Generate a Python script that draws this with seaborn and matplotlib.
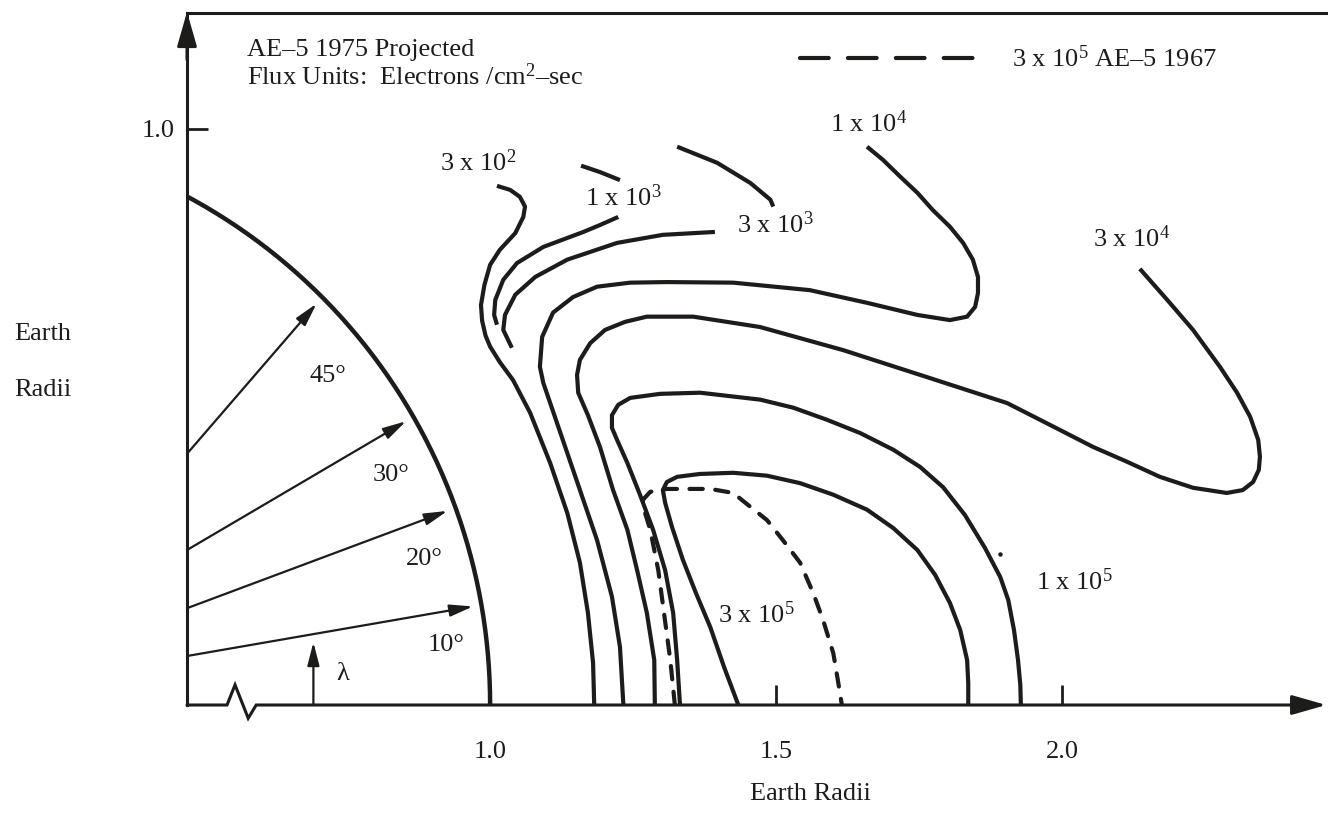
import matplotlib
matplotlib.use("Agg")
import matplotlib.pyplot as plt
from matplotlib.lines import Line2D
import numpy as np
import pandas as pd
import seaborn as sns

# ---------------------------------------------------------------------------
# Flux contours in the meridian plane (x: equatorial distance, y: height),
# both in Earth radii.
# ---------------------------------------------------------------------------
c3e2_x = [1.012, 1.035, 1.052, 1.061, 1.058, 1.044, 1.017, 1.000, 0.990, 0.984,
          0.986, 0.992, 1.000, 1.017, 1.040, 1.070, 1.105, 1.135, 1.157, 1.171,
          1.180, 1.182]
c3e2_y = [0.901, 0.894, 0.882, 0.865, 0.847, 0.819, 0.790, 0.764, 0.729, 0.694,
          0.667, 0.641, 0.622, 0.595, 0.564, 0.507, 0.420, 0.333, 0.247, 0.160,
          0.073, 0.000]

c1e3_upper_x = [1.159, 1.192, 1.227]
c1e3_upper_y = [0.936, 0.925, 0.911]
c1e3_lower_x = [1.224, 1.192, 1.163, 1.093, 1.047, 1.023, 1.009, 1.007, 1.012]
c1e3_lower_y = [0.847, 0.833, 0.821, 0.795, 0.767, 0.738, 0.703, 0.677, 0.660]

c3e3_upper_x = [1.327, 1.397, 1.455, 1.490, 1.495]
c3e3_upper_y = [0.969, 0.941, 0.906, 0.877, 0.865]
c3e3_lower_x = [1.393, 1.302, 1.222, 1.135, 1.079, 1.044, 1.026, 1.023, 1.038]
c3e3_lower_y = [0.821, 0.816, 0.802, 0.773, 0.743, 0.712, 0.677, 0.651, 0.620]

c1e4_x = [1.233, 1.227, 1.213, 1.187, 1.145, 1.093, 1.087, 1.091, 1.110, 1.145,
          1.187, 1.245, 1.309, 1.425, 1.559, 1.659, 1.747, 1.804, 1.834, 1.848,
          1.853, 1.853, 1.844, 1.827, 1.804, 1.774, 1.747, 1.717, 1.687, 1.659]
c1e4_y = [0.000, 0.101, 0.188, 0.286, 0.408, 0.559, 0.587, 0.639, 0.681, 0.708,
          0.726, 0.733, 0.734, 0.733, 0.720, 0.698, 0.677, 0.668, 0.674, 0.691,
          0.715, 0.743, 0.773, 0.802, 0.830, 0.859, 0.889, 0.917, 0.946, 0.969]

c3e4_x = [1.288, 1.287, 1.274, 1.257, 1.240, 1.215, 1.192, 1.171, 1.154, 1.152,
          1.157, 1.175, 1.201, 1.236, 1.274, 1.355, 1.472, 1.617, 1.764, 1.904,
          1.997, 2.054, 2.114, 2.171, 2.229, 2.288, 2.316, 2.334, 2.344, 2.346,
          2.343, 2.329, 2.306, 2.276, 2.229, 2.184, 2.136]
c3e4_y = [0.000, 0.078, 0.160, 0.234, 0.304, 0.373, 0.448, 0.503, 0.542, 0.573,
          0.599, 0.628, 0.651, 0.665, 0.674, 0.674, 0.656, 0.616, 0.569, 0.524,
          0.477, 0.448, 0.422, 0.396, 0.377, 0.368, 0.373, 0.387, 0.408, 0.431,
          0.460, 0.500, 0.542, 0.587, 0.651, 0.703, 0.757]

c1e5_x = [1.332, 1.327, 1.320, 1.306, 1.285, 1.262, 1.240, 1.222, 1.213, 1.213,
          1.224, 1.245, 1.297, 1.367, 1.472, 1.530, 1.589, 1.647, 1.705, 1.752,
          1.792, 1.830, 1.865, 1.892, 1.906, 1.916, 1.923, 1.927, 1.928]
c1e5_y = [0.000, 0.078, 0.160, 0.234, 0.304, 0.365, 0.420, 0.460, 0.481, 0.503,
          0.521, 0.533, 0.540, 0.542, 0.530, 0.516, 0.495, 0.472, 0.443, 0.413,
          0.378, 0.330, 0.273, 0.222, 0.182, 0.130, 0.078, 0.035, 0.000]

c3e5_x = [1.434, 1.409, 1.385, 1.360, 1.337, 1.318, 1.306, 1.302, 1.309, 1.327,
          1.367, 1.425, 1.484, 1.542, 1.600, 1.659, 1.705, 1.747, 1.778, 1.804,
          1.822, 1.834, 1.836, 1.836]
c3e5_y = [0.000, 0.066, 0.135, 0.194, 0.252, 0.309, 0.351, 0.373, 0.387, 0.396,
          0.401, 0.403, 0.398, 0.385, 0.365, 0.339, 0.307, 0.269, 0.226, 0.177,
          0.130, 0.078, 0.038, 0.000]

# 3 x 10^5 contour of the 1967 model (dashed)
c3e5_1967_x = [1.323, 1.315, 1.304, 1.294, 1.280, 1.271, 1.267, 1.280, 1.309,
               1.385, 1.425, 1.455, 1.484, 1.512, 1.542, 1.565, 1.582, 1.600,
               1.608, 1.615]
c3e5_1967_y = [0.000, 0.078, 0.160, 0.234, 0.304, 0.333, 0.356, 0.370, 0.375,
               0.375, 0.368, 0.344, 0.321, 0.286, 0.247, 0.194, 0.148, 0.090,
               0.043, 0.000]

# Contour labels
level_labels = [r"3 x $\mathregular{10^{2}}$", r"1 x $\mathregular{10^{3}}$",
                r"3 x $\mathregular{10^{3}}$", r"1 x $\mathregular{10^{4}}$",
                r"3 x $\mathregular{10^{4}}$", r"3 x $\mathregular{10^{5}}$",
                r"1 x $\mathregular{10^{5}}$"]
level_label_x = [0.913, 1.166, 1.432, 1.594, 2.054, 1.399, 1.955]
level_label_y = [0.927, 0.866, 0.819, 0.995, 0.795, 0.142, 0.200]

# Magnetic latitude arrows
lat_deg = [10, 20, 30, 45]
lat_base_y = [0.085, 0.168, 0.269, 0.436]
lat_label_x = [0.890, 0.853, 0.794, 0.685]
lat_label_y = [0.094, 0.243, 0.389, 0.561]

x_ticks = [1.0, 1.5, 2.0]
x_tick_labels = ["1.0", "1.5", "2.0"]
y_ticks = [1.0]
y_tick_labels = ["1.0"]

EARTH_RADIUS = 1.0

# ---------------------------------------------------------------------------
sns.set_theme(style="ticks")
plt.rcParams["font.family"] = ["Liberation Serif", "DejaVu Serif"]
plt.rcParams["mathtext.fontset"] = "custom"
plt.rcParams["mathtext.rm"] = "Liberation Serif"

INK = "#1e1b1b"
FS = 19
LW = 3.0

fig = plt.figure(figsize=(13.28, 8.15), dpi=100)
fig.patch.set_facecolor("white")
ax = fig.add_axes([187 / 1328, 110 / 815, 1141 / 1328, 692 / 815])
ax.set_facecolor("white")
X0, X1 = 0.470, 2.465
ax.set_xlim(X0, X1)
ax.set_ylim(0.0, 1.201)

# frame: left and top lines only, bottom drawn with a break
for side in ("right", "bottom"):
    ax.spines[side].set_visible(False)
for side in ("left", "top"):
    ax.spines[side].set_linewidth(2.2)
    ax.spines[side].set_color(INK)

ax.plot([X0, 0.540, 0.554, 0.577, 0.591, 2.44], [0, 0, 0.035, -0.023, 0, 0],
        color=INK, lw=2.2, clip_on=False, solid_joinstyle="miter")
ax.annotate("", xy=(2.462, 0), xytext=(2.40, 0), annotation_clip=False,
            arrowprops=dict(arrowstyle="-|>,head_length=2.1,head_width=0.6",
                            mutation_scale=10, color=INK, lw=2.2,
                            shrinkA=0, shrinkB=0))
ax.annotate("", xy=(X0, 1.203), xytext=(X0, 1.12), annotation_clip=False,
            arrowprops=dict(arrowstyle="-|>,head_length=2.1,head_width=0.6",
                            mutation_scale=10, color=INK, lw=2.2,
                            shrinkA=0, shrinkB=0))

# Earth surface
theta = np.linspace(0, np.arccos(X0 / EARTH_RADIUS), 200)
ax.plot(EARTH_RADIUS * np.cos(theta), EARTH_RADIUS * np.sin(theta),
        color=INK, lw=3.2, clip_on=False, solid_capstyle="butt")

# latitude arrows
for lat, by, lx, ly in zip(lat_deg, lat_base_y, lat_label_x, lat_label_y):
    t = np.deg2rad(lat)
    tip = (0.985 * EARTH_RADIUS * np.cos(t), 0.985 * EARTH_RADIUS * np.sin(t))
    ax.annotate("", xy=tip, xytext=(X0, by), annotation_clip=False,
                arrowprops=dict(arrowstyle="-|>,head_length=1.4,head_width=0.36",
                                mutation_scale=10, color=INK, lw=1.6,
                                shrinkA=0, shrinkB=0))
    ax.text(lx, ly, f"{lat}°", fontsize=FS, color=INK, ha="left", va="baseline")

ax.annotate("", xy=(0.691, 0.109), xytext=(0.691, 0.0),
            arrowprops=dict(arrowstyle="-|>,head_length=1.4,head_width=0.36",
                            mutation_scale=10, color=INK, lw=1.6,
                            shrinkA=0, shrinkB=0))
ax.text(0.731, 0.043, "λ", fontsize=FS, color=INK, ha="left", va="baseline")

# flux contours
solid_traces = [
    (c3e2_x, c3e2_y),
    (c1e3_upper_x, c1e3_upper_y), (c1e3_lower_x, c1e3_lower_y),
    (c3e3_upper_x, c3e3_upper_y), (c3e3_lower_x, c3e3_lower_y),
    (c1e4_x, c1e4_y), (c3e4_x, c3e4_y), (c1e5_x, c1e5_y), (c3e5_x, c3e5_y),
]
for xs, ys in solid_traces:
    df = pd.DataFrame({"x": xs, "y": ys})
    sns.lineplot(data=df, x="x", y="y", estimator=None, sort=False, ax=ax,
                 color=INK, linewidth=LW, legend=False,
                 solid_joinstyle="round", solid_capstyle="butt")

df_1967 = pd.DataFrame({"x": c3e5_1967_x, "y": c3e5_1967_y})
sns.lineplot(data=df_1967, x="x", y="y", estimator=None, sort=False, ax=ax,
             color=INK, linewidth=LW, legend=False,
             linestyle=(0, (3.2, 3.0)), dash_capstyle="round")

# stray ink dot
ax.plot([1.892], [0.262], marker="o", ms=2.2, color=INK, lw=0)

for s, lx, ly in zip(level_labels, level_label_x, level_label_y):
    ax.text(lx, ly, s, fontsize=FS, color=INK, ha="left", va="baseline")

# header notes
ax.text(0.575, 1.127, "AE–5 1975 Projected", fontsize=FS, color=INK,
        ha="left", va="baseline")
ax.text(0.575, 1.076, r"Flux Units:  Electrons /$\mathregular{cm^{2}}$–sec",
        fontsize=FS, color=INK, ha="left", va="baseline")

# legend for the 1967 contour
key = Line2D([], [], color=INK, lw=LW, linestyle=(0, (6.9, 4.6)),
             dash_capstyle="round")
ax.legend(handles=[key], labels=[r"3 x $\mathregular{10^{5}}$ AE–5 1967"],
          loc="upper left", bbox_to_anchor=(0.537, 0.953), frameon=False,
          fontsize=FS, handlelength=6.8, handletextpad=1.25,
          borderpad=0, borderaxespad=0, labelcolor=INK)

# ticks and axis labels
ax.set_xticks(x_ticks)
ax.set_xticklabels(x_tick_labels)
ax.set_yticks(y_ticks)
ax.set_yticklabels(y_tick_labels)
ax.tick_params(axis="x", direction="in", length=14.4, width=2.0, pad=26,
               labelsize=FS, colors=INK, bottom=True, top=False)
ax.tick_params(axis="y", direction="in", length=15, width=2.0, pad=9,
               labelsize=FS, colors=INK, left=True, right=False)

ax.set_xlabel("Earth Radii", fontsize=FS, color=INK)
ax.xaxis.set_label_coords(0.546, -0.113)
ax.set_ylabel("Earth\nRadii", fontsize=FS, color=INK, rotation=0,
              ha="left", va="center", linespacing=3.0)
ax.yaxis.set_label_coords(-0.151, 0.496)

fig.savefig("out.png", dpi=100, facecolor="white")
